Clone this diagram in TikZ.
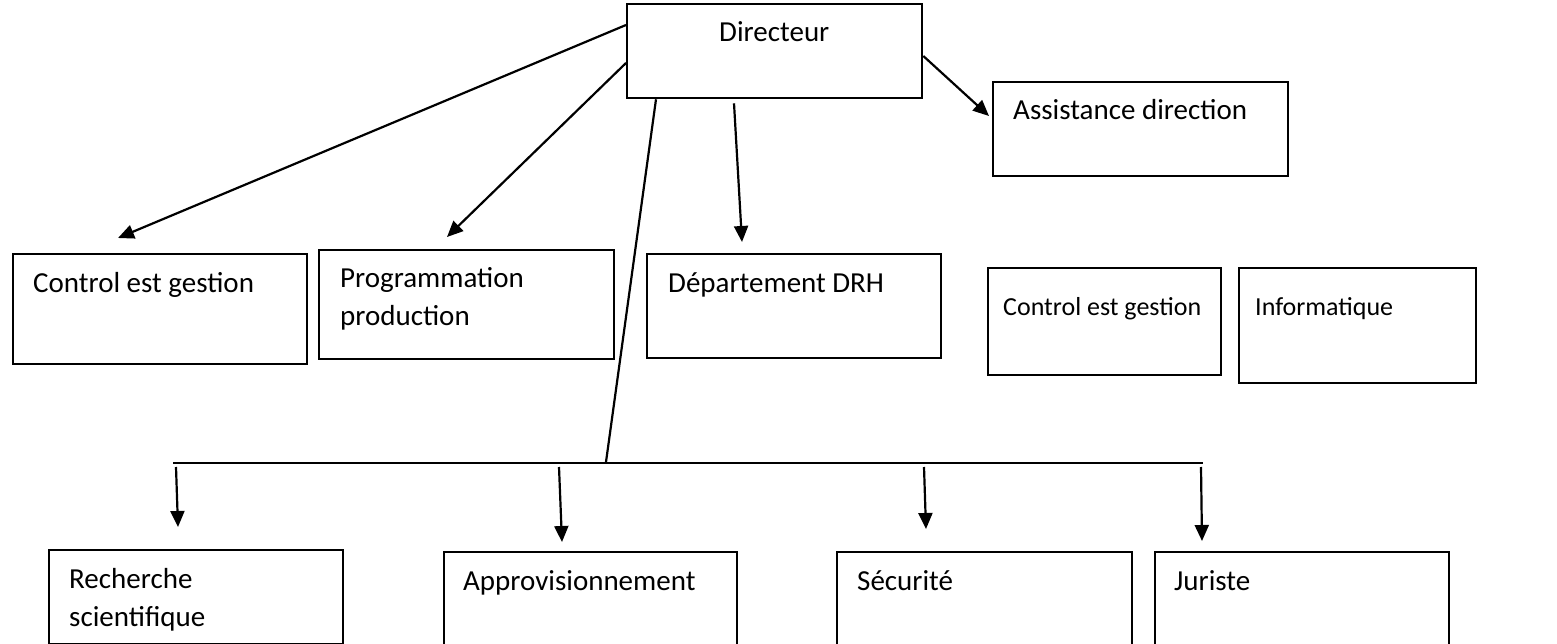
\documentclass[tikz,border=0pt]{standalone}
\usepackage{fontspec}
\setmainfont{Carlito}
\usetikzlibrary{arrows.meta}
\begin{document}
\begin{tikzpicture}[x=1pt,y=-1pt,
  box/.style={draw=black, line width=2.3pt, inner sep=0pt, anchor=north west},
  lbl/.style={inner sep=0pt, anchor=base west, align=left,
    font=\fontsize{29}{37.5}\selectfont},
  small/.style={font=\fontsize{26}{32}\selectfont},
  link/.style={line width=2.2pt},
  arr/.style={line width=2.2pt, -{Triangle[length=16pt,width=14pt]}}]
\useasboundingbox (0,0) rectangle (1557,644);
\clip (0,0) rectangle (1557,644);

% boxes (top-left corner, size)
\node[box, minimum width=295pt, minimum height=94pt]  (dir)  at (626,3)   {};
\node[box, minimum width=295pt, minimum height=94pt]  (asst) at (992,81)  {};
\node[box, minimum width=294pt, minimum height=110pt] (ctlL) at (12,253)  {};
\node[box, minimum width=295pt, minimum height=109pt] (prog) at (318,249) {};
\node[box, minimum width=294pt, minimum height=104pt] (drh)  at (646,253) {};
\node[box, minimum width=233pt, minimum height=107pt] (ctlR) at (987,267) {};
\node[box, minimum width=237pt, minimum height=115pt] (info) at (1238,267){};
\node[box, minimum width=294pt, minimum height=94pt]  (rech) at (48,549)  {};
\node[box, minimum width=293pt, minimum height=120pt] (appr) at (443,551) {};
\node[box, minimum width=295pt, minimum height=120pt] (secu) at (836,551) {};
\node[box, minimum width=294pt, minimum height=120pt] (juri) at (1154,551){};

% labels (anchored on the baseline of the last line)
\node[lbl] (dirT)  at (719,42)   {Directeur};
\node[lbl] (asstT) at (1013,120) {Assistance direction};
\node[lbl] (ctlLT) at (33,292)   {Control est gestion};
\node[lbl] (progT) at (340,325)  {Programmation\\production};
\node[lbl] (drhT)  at (668,292)  {Département DRH};
\node[lbl,small] (ctlRT) at (1003,315) {Control est gestion};
\node[lbl,small] (infoT) at (1255,315) {Informatique};
\node[lbl] (rechT) at (69,626)   {Recherche\\scientifique};
\node[lbl] (apprT) at (463,590)  {Approvisionnement};
\node[lbl] (secuT) at (857,590)  {Sécurité};
\node[lbl] (juriT) at (1174,590) {Juriste};

% arrow tips and bar points
\coordinate (tipCtlL) at (118,238);
\coordinate (tipProg) at (447,237);
\coordinate (tipDrh)  at (742,242);
\coordinate (tipAsst) at (989,116);
\coordinate (barL)    at (173,463);
\coordinate (barR)    at (1203,463);
\coordinate (barJ)    at (606,462);
\coordinate (tipRech) at (178,527);
\coordinate (tipAppr) at (562,542);
\coordinate (tipSecu) at (926,529);
\coordinate (tipJuri) at (1202,541);

% directeur links
\draw[arr] ([yshift=-22pt]dir.north west) -- (tipCtlL);
\draw[arr] ([yshift=-60pt]dir.north west) -- (tipProg);
\draw[arr] ([xshift=108pt,yshift=-4pt]dir.south west) -- (tipDrh);
\draw[arr] ([yshift=-53pt]dir.north east) -- (tipAsst);
\draw[link] ([xshift=30pt]dir.south west) -- (barJ);

% distribution bar
\draw[link] (barL) -- (barR);
\draw[arr] ([xshift=3pt,yshift=-4pt]barL) -- (tipRech);
\draw[arr] (559,467) -- (tipAppr);
\draw[arr] (924,467) -- (tipSecu);
\draw[arr] ([xshift=-2pt,yshift=-4pt]barR) -- (tipJuri);
\end{tikzpicture}
\end{document}
